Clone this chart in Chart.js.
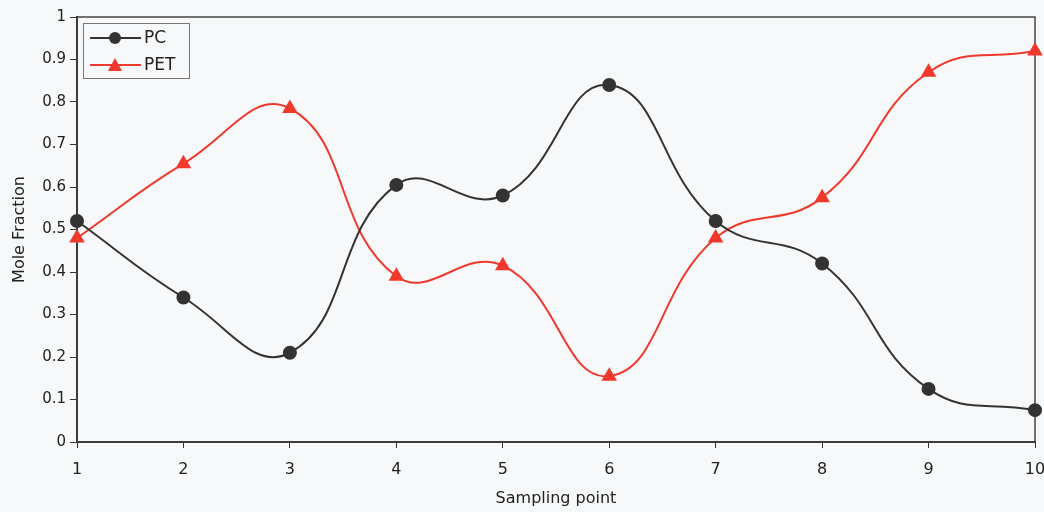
<!DOCTYPE html>
<html>
<head>
<meta charset="utf-8">
<title>Mole Fraction by Sampling Point</title>
<script src="https://cdn.jsdelivr.net/npm/chart.js@4.4.1/dist/chart.umd.min.js"></script>
<style>
  html, body { margin: 0; padding: 0; background: #f6f8f9; }
  #wrap { width: 1044px; height: 512px; position: relative; }
</style>
</head>
<body>
<div id="wrap"><canvas id="moleChart" width="1044" height="512"></canvas></div>
<script>
// data
const samplingPoints = ["1", "2", "3", "4", "5", "6", "7", "8", "9", "10"];
const pcValues = [0.52, 0.34, 0.21, 0.605, 0.58, 0.84, 0.52, 0.42, 0.125, 0.075];
const petValues = [0.48, 0.655, 0.785, 0.39, 0.415, 0.155, 0.48, 0.575, 0.87, 0.92];
const yTicks = [0, 0.1, 0.2, 0.3, 0.4, 0.5, 0.6, 0.7, 0.8, 0.9, 1];

const pcColor = "#333333";
const petColor = "#f0382c";
const textColor = "#222222";
const fontFamily = "'DejaVu Sans', sans-serif";

// frame around the plot area (top + right lines, axes draw the rest)
const frame = {
  id: "frame",
  beforeDatasetsDraw(chart) {
    const { ctx, chartArea: a } = chart;
    ctx.save();
    ctx.strokeStyle = "#444";
    ctx.lineWidth = 1.5;
    ctx.strokeRect(a.left, a.top, a.right - a.left, a.bottom - a.top);
    ctx.restore();
  }
};

// boxed legend sitting inside the plot, top left
const boxLegend = {
  id: "boxLegend",
  afterDraw(chart) {
    const { ctx, chartArea: a } = chart;
    const x = a.left + 6, y = a.top + 6, w = 106, h = 55;
    ctx.save();
    ctx.fillStyle = "#f6f8f9";
    ctx.fillRect(x, y, w, h);
    ctx.strokeStyle = "#777";
    ctx.lineWidth = 1;
    ctx.strokeRect(x + 0.5, y + 0.5, w, h);

    chart.data.datasets.forEach((ds, i) => {
      const cy = y + 15 + i * 27;
      ctx.strokeStyle = ds.borderColor;
      ctx.lineWidth = 2;
      ctx.beginPath();
      ctx.moveTo(x + 7, cy);
      ctx.lineTo(x + 58, cy);
      ctx.stroke();
      ctx.fillStyle = ds.backgroundColor;
      ctx.beginPath();
      if (ds.pointStyle === "triangle") {
        ctx.moveTo(x + 32, cy - 7);
        ctx.lineTo(x + 39, cy + 6);
        ctx.lineTo(x + 25, cy + 6);
        ctx.closePath();
      } else {
        ctx.arc(x + 32, cy, 6, 0, Math.PI * 2);
      }
      ctx.fill();
      ctx.fillStyle = textColor;
      ctx.font = "17px " + fontFamily;
      ctx.textBaseline = "middle";
      ctx.fillText(ds.label, x + 61, cy + 1);
    });
    ctx.restore();
  }
};

const ctx = document.getElementById("moleChart").getContext("2d");

new Chart(ctx, {
  type: "line",
  data: {
    labels: samplingPoints,
    datasets: [
      {
        label: "PC",
        data: pcValues,
        borderColor: pcColor,
        backgroundColor: pcColor,
        borderWidth: 2,
        pointStyle: "circle",
        pointRadius: 6,
        tension: 0.45,
        clip: false
      },
      {
        label: "PET",
        data: petValues,
        borderColor: petColor,
        backgroundColor: petColor,
        borderWidth: 2,
        pointStyle: "triangle",
        pointRadius: 7,
        tension: 0.45,
        clip: false
      }
    ]
  },
  options: {
    responsive: false,
    animation: false,
    layout: { padding: { top: 17, right: 9, left: 0, bottom: 0 } },
    plugins: {
      legend: { display: false },
      tooltip: { enabled: false },
      title: { display: false }
    },
    scales: {
      x: {
        type: "category",
        offset: false,
        afterFit: s => {
          s.height = 70;
          // keep the last label from pulling the plot in
          s.paddingLeft = 0;
          s.paddingRight = 0;
        },
        grid: { drawOnChartArea: false, tickLength: 6, color: "#333", tickWidth: 1 },
        border: { color: "#222", width: 2 },
        ticks: {
          color: textColor,
          padding: 12,
          maxRotation: 0,
          font: { family: fontFamily, size: 16 }
        },
        title: {
          display: true,
          text: "Sampling point",
          color: textColor,
          font: { family: fontFamily, size: 16 },
          padding: { top: 0, bottom: 4 }
        }
      },
      y: {
        min: 0,
        max: 1,
        afterFit: s => { s.width = 77; },
        afterBuildTicks: s => { s.ticks = yTicks.map(v => ({ value: v })); },
        grid: { drawOnChartArea: false, tickLength: 7, color: "#333", tickWidth: 1 },
        border: { color: "#222", width: 2 },
        ticks: {
          color: textColor,
          padding: 4,
          font: { family: fontFamily, size: 15 },
          callback: v => String(v)
        },
        title: {
          display: true,
          text: "Mole Fraction",
          color: textColor,
          font: { family: fontFamily, size: 16 },
          padding: { top: 10, bottom: 0 }
        }
      }
    }
  },
  plugins: [frame, boxLegend]
});
</script>
</body>
</html>
